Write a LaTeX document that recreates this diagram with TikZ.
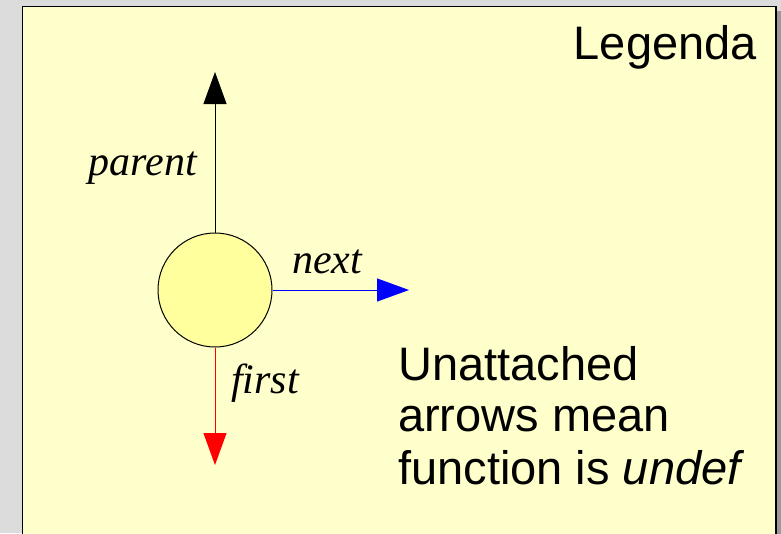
\documentclass[tikz,border=0pt]{standalone}
\usepackage{fontspec}
\setmainfont{Liberation Serif}
\setsansfont{Liberation Sans}
\usetikzlibrary{arrows.meta}
\definecolor{bggray}{HTML}{DCDCDC}
\definecolor{shadowgray}{HTML}{9A9A9A}
\definecolor{panel}{HTML}{FFFFCC}
\definecolor{nodefill}{HTML}{FFFF9E}
\definecolor{arrblue}{HTML}{0000FF}
\definecolor{arrred}{HTML}{FF0000}
\tikzset{
  arr/.style={line width=1pt,-{Triangle[length=32pt,width=23pt]}},
  lbl/.style={inner sep=0pt,anchor=base west,font=\fontsize{42}{48}\selectfont\itshape},
  sanstext/.style={inner sep=0pt,font=\sffamily\fontsize{47}{52}\selectfont},
}
\begin{document}
\begin{tikzpicture}[x=1pt,y=-1pt]
\useasboundingbox (0,0) rectangle (781,533);
\fill[bggray] (0,0) rectangle (781,533);
\fill[shadowgray] (27,11) rectangle (781,545);
\draw[line width=1.4pt,fill=panel] (22.5,6.5) rectangle (776,545);
\node[circle,draw,line width=1pt,fill=nodefill,minimum size=114pt,inner sep=0pt] (c) at (215,290) {};
\coordinate (ptop) at (215,72);
\coordinate (pright) at (409,290);
\coordinate (pbot) at (215,465);
\draw[arr,black] (c.north) -- (ptop);
\draw[arr,arrblue] (c.east) -- (pright);
\draw[arr,arrred] (c.south) -- (pbot);
\node[lbl,anchor=base east] (lparent) at (197,175) {parent};
\node[lbl] (lnext) at (292,273) {next};
\node[lbl] (lfirst) at (231,393) {first};
\node[sanstext,anchor=base east] (legend) at (757,59) {Legenda};
\node[sanstext,anchor=base west] (u1) at (398,380) {Unattached};
\node[sanstext,anchor=base west] (u2) at (398,431) {arrows mean};
\node[sanstext,anchor=base west] (u3) at (398,484) {function is \textit{undef}};
\end{tikzpicture}
\end{document}
